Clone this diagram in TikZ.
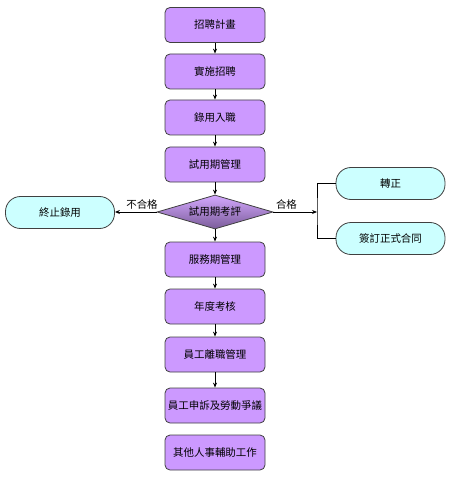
\documentclass[tikz,border=0pt]{standalone}
\usepackage{fontspec}
\newfontfamily\cjk{Noto Sans CJK TC}
\usetikzlibrary{shapes.geometric,arrows.meta}
\definecolor{boxfill}{HTML}{CC99FF}
\definecolor{termfill}{HTML}{CCFFFF}
\definecolor{edge}{HTML}{404040}
\begin{document}
\begin{tikzpicture}[x=1bp,y=-1bp,
  every node/.style={font=\cjk\fontsize{10.5}{12}\selectfont},
  proc/.style={draw=edge,line width=0.8bp,fill=boxfill,rounded corners=5bp,minimum width=100bp,minimum height=35bp,inner sep=0pt},
  term/.style={draw=edge,line width=0.8bp,fill=termfill,rounded corners=15bp,minimum width=109bp,minimum height=32bp,inner sep=0pt},
  dec/.style={diamond,draw=edge,line width=0.8bp,top color=boxfill!85!white,bottom color=boxfill!60!black,aspect=3.4,minimum width=116bp,minimum height=34bp,inner sep=0pt},
  arr/.style={-{Stealth[length=5bp,width=4bp]},line width=1bp,black},
  lab/.style={font=\cjk\fontsize{10.5}{12}\selectfont}]
\useasboundingbox (0,0) rectangle (450,481);
\node[proc] (p1) at (215,25) {招聘計畫};
\node[proc] (p2) at (215,71.5) {實施招聘};
\node[proc] (p3) at (215,117.5) {錄用入職};
\node[proc] (p4) at (215,164.5) {試用期管理};
\node[dec]  (d)  at (215,212) {試用期考評};
\node[proc] (p5) at (215,259.5) {服務期管理};
\node[proc] (p6) at (215,306.5) {年度考核};
\node[proc] (p7) at (215,354.5) {員工離職管理};
\node[proc] (p8) at (215,405.5) {員工申訴及勞動爭議};
\node[proc] (p9) at (215,452.5) {其他人事輔助工作};
\node[term] (t0) at (60,212.5) {終止錄用};
\node[term] (t1) at (390.5,183.5) {轉正};
\node[term] (t2) at (390.5,238.5) {簽訂正式合同};
\coordinate (j) at (317,212);
\draw[arr] (p1) -- (p2);
\draw[arr] (p2) -- (p3);
\draw[arr] (p3) -- (p4);
\draw[arr] (p4) -- (d);
\draw[arr] (d) -- (p5);
\draw[arr] (p5) -- (p6);
\draw[arr] (p6) -- (p7);
\draw[arr] (p7) -- (p8);
\draw[arr] (d.west) -- node[lab,above,pos=0.35,yshift=-1bp] {不合格} (t0.east |- d.west);
\draw[arr] (d.east) -- node[lab,above,pos=0.3,yshift=-1bp] {合格} (j);
\draw[line width=0.8bp] (t1.west) -| (j) |- (t2.west);
\end{tikzpicture}
\end{document}
